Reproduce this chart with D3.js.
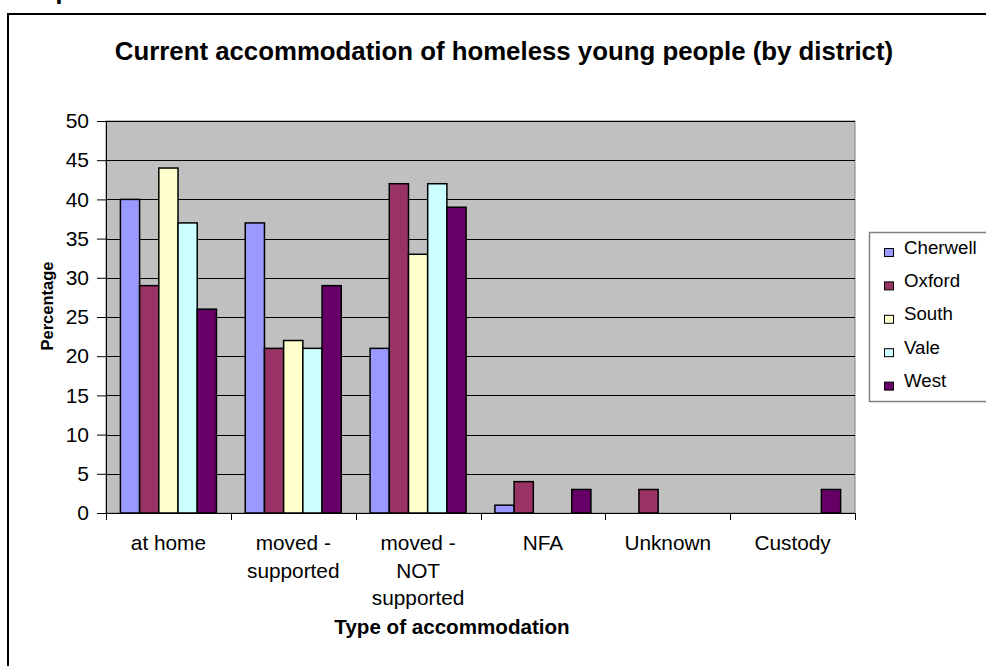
<!DOCTYPE html>
<html>
<head>
<meta charset="utf-8">
<script src="https://cdn.jsdelivr.net/npm/d3@7"></script>
<style>
  html, body { margin: 0; padding: 0; background: #fff; }
  svg { display: block; font-family: Arial, "Liberation Sans", sans-serif; }
</style>
</head>
<body>
<svg id="chart" width="986" height="666"></svg>
<script>
// Accommodation categories along the x axis
const categories = ["at home", "moved - supported", "moved - NOT supported", "NFA", "Unknown", "Custody"];
// Districts (one series each)
const districts = ["Cherwell", "Oxford", "South", "Vale", "West"];
const districtColors = ["#9999FF", "#993366", "#FFFFCC", "#CCFFFF", "#660066"];
// Percentage of homeless young people per district, by category
const cherwell = [40, 37, 21, 1, 0, 0];
const oxford   = [29, 21, 42, 4, 3, 0];
const south    = [44, 22, 33, 0, 0, 0];
const vale     = [37, 21, 42, 0, 0, 0];
const west     = [26, 29, 39, 3, 0, 3];
const yTicks = [0, 5, 10, 15, 20, 25, 30, 35, 40, 45, 50];

const seriesValues = [cherwell, oxford, south, vale, west];

const svg = d3.select("#chart");

// Outer chart frame
svg.append("rect")
  .attr("x", 8).attr("y", 14)
  .attr("width", 1000).attr("height", 700)
  .attr("fill", "#fff").attr("stroke", "#000").attr("stroke-width", 2);

// Heading fragment above the frame
svg.append("text")
  .attr("x", 55.5).attr("y", -1)
  .attr("font-size", 25).attr("font-weight", "bold")
  .text("p");

const plot = { left: 106, right: 855, top: 121, bottom: 513 };

const x = d3.scaleBand().domain(categories).range([plot.left, plot.right]).padding(0);
const xs = d3.scaleBand().domain(districts).range([0, x.bandwidth()])
  .paddingInner(0).paddingOuter(0.75);
const y = d3.scaleLinear().domain([0, 50]).range([plot.bottom, plot.top]);

// Plot background
svg.append("rect")
  .attr("x", plot.left).attr("y", plot.top)
  .attr("width", plot.right - plot.left).attr("height", plot.bottom - plot.top)
  .attr("fill", "#C0C0C0").attr("stroke", "#808080").attr("stroke-width", 1);

// Horizontal gridlines
svg.append("g").selectAll("line")
  .data(yTicks.filter(d => d > 0))
  .join("line")
  .attr("x1", plot.left).attr("x2", plot.right)
  .attr("y1", d => Math.round(y(d)) + 0.5).attr("y2", d => Math.round(y(d)) + 0.5)
  .attr("stroke", "#000").attr("stroke-width", 1);

// Bars
const barData = [];
categories.forEach((c, ci) => {
  districts.forEach((d, si) => {
    const v = seriesValues[si][ci];
    if (v > 0) barData.push({ c, d, v, color: districtColors[si] });
  });
});
svg.append("g").selectAll("rect")
  .data(barData)
  .join("rect")
  .attr("x", d => x(d.c) + xs(d.d))
  .attr("y", d => y(d.v))
  .attr("width", xs.bandwidth())
  .attr("height", d => y(0) - y(d.v))
  .attr("fill", d => d.color)
  .attr("stroke", "#000").attr("stroke-width", 1.5);

// Y axis
const yAxis = d3.axisLeft(y).tickValues(yTicks).tickSize(9).tickPadding(8);
const gy = svg.append("g").attr("transform", `translate(${plot.left},0)`).call(yAxis);
gy.selectAll("text").attr("font-size", 21).attr("font-family", "Arial, 'Liberation Sans', sans-serif").attr("fill", "#000");
gy.selectAll("line, path").attr("stroke", "#000");

// X axis: line plus ticks at category boundaries
svg.append("line")
  .attr("x1", plot.left).attr("x2", plot.right)
  .attr("y1", plot.bottom + 0.5).attr("y2", plot.bottom + 0.5)
  .attr("stroke", "#000").attr("stroke-width", 1);
const boundaries = categories.map(c => x(c)).concat([plot.right]);
svg.append("g").selectAll("line")
  .data(boundaries)
  .join("line")
  .attr("x1", d => Math.round(d) + 0.5).attr("x2", d => Math.round(d) + 0.5)
  .attr("y1", plot.bottom).attr("y2", plot.bottom + 7)
  .attr("stroke", "#000");

// Category labels, wrapped to the band width
const catG = svg.append("g").attr("font-size", 20.8).attr("text-anchor", "middle");
categories.forEach(c => {
  const cx = x(c) + x.bandwidth() / 2;
  const t = catG.append("text").attr("x", cx).attr("y", 550);
  const words = c.split(" ");
  let line = [];
  let tspan = t.append("tspan").attr("x", cx).attr("dy", 0);
  words.forEach(w => {
    line.push(w);
    tspan.text(line.join(" "));
    if (tspan.node().getComputedTextLength() > 110 && line.length > 1) {
      line.pop();
      tspan.text(line.join(" "));
      line = [w];
      tspan = t.append("tspan").attr("x", cx).attr("dy", 27.5).text(w);
    }
  });
});

// Titles
svg.append("text")
  .attr("x", 504).attr("y", 60)
  .attr("text-anchor", "middle").attr("font-size", 25.8).attr("font-weight", "bold")
  .text("Current accommodation of homeless young people (by district)");

svg.append("text")
  .attr("transform", "translate(53,306) rotate(-90)")
  .attr("text-anchor", "middle").attr("font-size", 16.5).attr("font-weight", "bold")
  .text("Percentage");

svg.append("text")
  .attr("x", 452).attr("y", 634)
  .attr("text-anchor", "middle").attr("font-size", 20.6).attr("font-weight", "bold")
  .text("Type of accommodation");

// Legend
const legend = svg.append("g");
legend.append("rect")
  .attr("x", 869.5).attr("y", 232.5)
  .attr("width", 200).attr("height", 169)
  .attr("fill", "#fff").attr("stroke", "#808080").attr("stroke-width", 1.5);
const items = legend.selectAll("g.item")
  .data(districts)
  .join("g").attr("class", "item")
  .attr("transform", (d, i) => `translate(0,${252.5 + i * 33.4})`);
items.append("rect")
  .attr("x", 884.5).attr("y", -4).attr("width", 9).attr("height", 8)
  .attr("fill", (d, i) => districtColors[i]).attr("stroke", "#000").attr("stroke-width", 1);
items.append("text")
  .attr("x", 904).attr("y", 1)
  .attr("font-size", 18.7)
  .text(d => d);
</script>
</body>
</html>
